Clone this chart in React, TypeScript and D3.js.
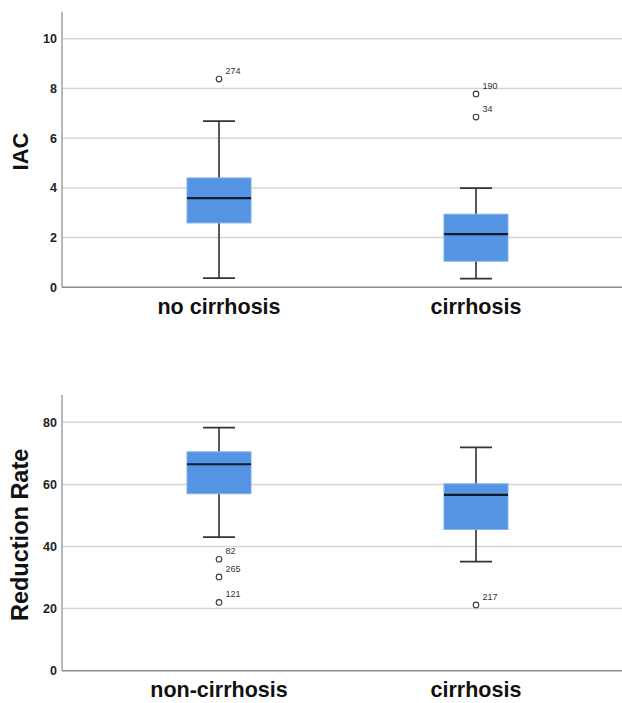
import { useEffect, useRef } from 'react';
import * as d3 from 'd3';

// ─── Datos ──────────────────────────────────────────────────────────────────
const iacGroups = ['no cirrhosis', 'cirrhosis'];
const iacLowWhisker = [0.37, 0.35];
const iacQ1 = [2.59, 1.05];
const iacMedian = [3.59, 2.14];
const iacQ3 = [4.4, 2.94];
const iacHighWhisker = [6.69, 3.99];
const iacOutliers = [
  { group: 'no cirrhosis', value: 8.38, id: '274' },
  { group: 'cirrhosis', value: 7.78, id: '190' },
  { group: 'cirrhosis', value: 6.85, id: '34' },
];
const iacTicks = [0, 2, 4, 6, 8, 10];

const rateGroups = ['non-cirrhosis', 'cirrhosis'];
const rateLowWhisker = [43.0, 35.1];
const rateQ1 = [57.0, 45.5];
const rateMedian = [66.5, 56.6];
const rateQ3 = [70.5, 60.2];
const rateHighWhisker = [78.3, 71.9];
const rateOutliers = [
  { group: 'non-cirrhosis', value: 35.9, id: '82' },
  { group: 'non-cirrhosis', value: 30.2, id: '265' },
  { group: 'non-cirrhosis', value: 22.0, id: '121' },
  { group: 'cirrhosis', value: 21.2, id: '217' },
];
const rateTicks = [0, 20, 40, 60, 80];

const W = 622;
const H = 703;
const FONT = '"Liberation Sans", Arial, sans-serif';

function drawPanel(svg, cfg) {
  const { groups, low, q1, med, q3, high, outliers, ticks, yMax, top, bottom, title, titleSize } = cfg;
  const left = 62;

  const x = d3.scalePoint().domain(groups).range([left, 633]).padding(0.611);
  const y = d3.scaleLinear().domain([0, yMax]).range([bottom, top]);

  const g = svg.append('g');

  // ── Rejilla ──────────────────────────────────────────────────────────────
  g.append('g')
    .selectAll('line')
    .data(ticks.filter(t => t > 0))
    .join('line')
    .attr('x1', left).attr('x2', W)
    .attr('y1', d => y(d)).attr('y2', d => y(d))
    .attr('stroke', '#d6d6d6')
    .attr('stroke-width', 1.5);

  // ── Ejes ─────────────────────────────────────────────────────────────────
  g.append('line')
    .attr('x1', left).attr('x2', left)
    .attr('y1', y(yMax)).attr('y2', y(0))
    .attr('stroke', '#a0a0a0')
    .attr('stroke-width', 1.5);

  g.append('line')
    .attr('x1', left).attr('x2', W)
    .attr('y1', y(0)).attr('y2', y(0))
    .attr('stroke', '#8c8c8c')
    .attr('stroke-width', 1.5);

  g.append('g')
    .selectAll('text')
    .data(ticks)
    .join('text')
    .attr('x', left - 5)
    .attr('y', d => y(d))
    .attr('dy', '0.35em')
    .attr('text-anchor', 'end')
    .attr('font-family', FONT)
    .attr('font-weight', 'bold')
    .attr('font-size', 12.5)
    .attr('fill', '#222')
    .text(d => d);

  g.append('text')
    .attr('transform', `translate(28,${(top + bottom) / 2 + 2}) rotate(-90)`)
    .attr('text-anchor', 'middle')
    .attr('font-family', FONT)
    .attr('font-weight', 'bold')
    .attr('font-size', titleSize)
    .attr('fill', '#111')
    .text(title);

  g.append('g')
    .selectAll('text')
    .data(groups)
    .join('text')
    .attr('x', d => x(d))
    .attr('y', y(0) + 26.5)
    .attr('text-anchor', 'middle')
    .attr('font-family', FONT)
    .attr('font-weight', 'bold')
    .attr('font-size', 21.5)
    .attr('fill', '#111')
    .text(d => d);

  // ── Cajas ────────────────────────────────────────────────────────────────
  const boxW = 64;
  const capW = 32;
  const rows = groups.map((grp, i) => ({ grp, low: low[i], q1: q1[i], med: med[i], q3: q3[i], high: high[i] }));

  const box = g.append('g').selectAll('g').data(rows).join('g');

  box.append('line')
    .attr('x1', d => x(d.grp)).attr('x2', d => x(d.grp))
    .attr('y1', d => y(d.low)).attr('y2', d => y(d.high))
    .attr('stroke', '#474747')
    .attr('stroke-width', 1.8);

  box.selectAll('line.cap')
    .data(d => [d.low, d.high].map(v => ({ grp: d.grp, v })))
    .join('line')
    .attr('class', 'cap')
    .attr('x1', d => x(d.grp) - capW / 2).attr('x2', d => x(d.grp) + capW / 2)
    .attr('y1', d => y(d.v)).attr('y2', d => y(d.v))
    .attr('stroke', '#333')
    .attr('stroke-width', 1.8);

  box.append('rect')
    .attr('x', d => x(d.grp) - boxW / 2)
    .attr('width', boxW)
    .attr('y', d => y(d.q3))
    .attr('height', d => y(d.q1) - y(d.q3))
    .attr('fill', '#5494e3')
    .attr('stroke', '#7fb0ee')
    .attr('stroke-width', 1);

  box.append('line')
    .attr('x1', d => x(d.grp) - boxW / 2).attr('x2', d => x(d.grp) + boxW / 2)
    .attr('y1', d => y(d.med)).attr('y2', d => y(d.med))
    .attr('stroke', '#111a26')
    .attr('stroke-width', 2.2);

  // ── Atípicos ─────────────────────────────────────────────────────────────
  const out = g.append('g').selectAll('g').data(outliers).join('g');

  out.append('circle')
    .attr('cx', d => x(d.group))
    .attr('cy', d => y(d.value))
    .attr('r', 2.8)
    .attr('fill', 'white')
    .attr('stroke', '#3a3a3a')
    .attr('stroke-width', 1.1);

  out.append('text')
    .attr('x', d => x(d.group) + 6.5)
    .attr('y', d => y(d.value) - 5)
    .attr('font-family', FONT)
    .attr('font-size', 9)
    .attr('fill', '#333')
    .text(d => d.id);
}

export default function App() {
  const svgRef = useRef(null);

  useEffect(() => {
    if (!svgRef.current) return;
    const svg = d3.select(svgRef.current);
    svg.selectAll('*').remove();

    drawPanel(svg, {
      groups: iacGroups, low: iacLowWhisker, q1: iacQ1, med: iacMedian, q3: iacQ3, high: iacHighWhisker,
      outliers: iacOutliers, ticks: iacTicks, yMax: 11.09, top: 11.7, bottom: 287.3, title: 'IAC', titleSize: 22,
    });

    drawPanel(svg, {
      groups: rateGroups, low: rateLowWhisker, q1: rateQ1, med: rateMedian, q3: rateQ3, high: rateHighWhisker,
      outliers: rateOutliers, ticks: rateTicks, yMax: 88.8, top: 395, bottom: 670.7, title: 'Reduction Rate', titleSize: 23.5,
    });
  }, []);

  return (
    <div style={{ position: 'absolute', left: 0, top: 0, width: W, height: H, background: 'white' }}>
      <svg ref={svgRef} width={W} height={H} style={{ display: 'block' }} />
    </div>
  );
}
